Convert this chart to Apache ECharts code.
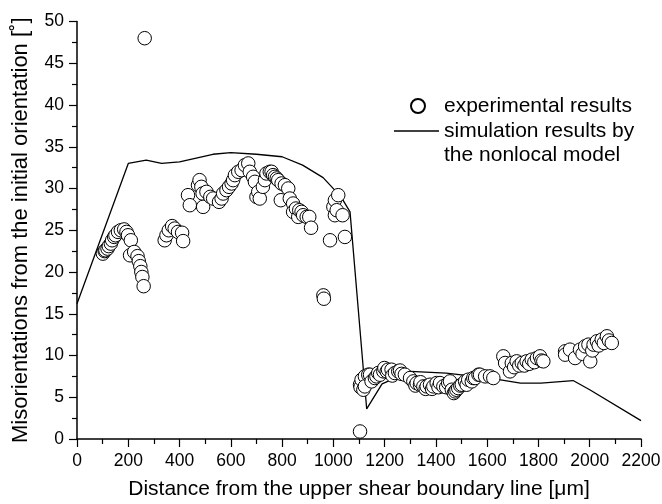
<!DOCTYPE html>
<html>
<head>
<meta charset="utf-8">
<script src="https://cdn.jsdelivr.net/npm/echarts@6/dist/echarts.min.js"></script>
<style>
html,body{margin:0;padding:0;background:#fff;}
#chart{width:662px;height:504px;}
</style>
</head>
<body>
<div id="chart"></div>
<script>
// ---- data ----
var xTicks = { min: 0, max: 2200, interval: 200 };
var yTicks = { min: 0, max: 50, interval: 5 };

var experimentalName = 'experimental results';
var simulationName = 'simulation results by\nthe nonlocal model';

var experimentalPoints = [
  [101,22.2],[108,22.5],[111,22.6],[119,22.8],[124,23.1],[132,23.4],[137,23.8],[145,24.2],[150,24.4],
  [160,24.8],[171,25.0],[184,25.1],[193,24.8],[199,24.4],[207,22.0],[210,23.8],[223,22.4],[236,21.9],
  [241,21.3],[247,20.7],[251,20.0],[255,19.4],[260,18.3],[264,48.0],
  [342,23.8],[349,24.4],[358,25.0],[371,25.5],[381,25.2],[394,24.8],[410,24.7],[414,23.7],
  [433,29.2],[440,28.0],[472,30.4],[478,31.0],[485,30.2],[490,29.4],[492,27.8],[505,29.6],[520,29.0],
  [531,28.8],[554,28.4],[564,28.8],[570,29.4],[583,29.8],[593,30.2],[603,30.6],[609,31.0],[616,31.6],
  [629,32.0],[642,32.2],[655,32.8],[668,33.0],[674,32.0],[687,31.4],[694,30.8],[700,29.0],[707,29.6],
  [713,28.8],[725,30.2],[733,31.0],[739,31.8],[752,32.0],[759,32.0],[765,31.6],[772,31.4],[779,31.2],
  [785,31.0],[795,28.6],[798,30.6],[811,30.4],[824,30.0],[830,28.8],[843,28.2],[843,27.2],[854,27.6],
  [863,26.6],[867,27.4],[876,27.2],[882,26.8],[896,26.6],[906,26.6],[913,25.3],
  [961,17.2],[963,16.8],
  [987,23.8],[1000,27.8],[1006,28.6],[1006,26.8],[1013,27.4],[1019,29.2],[1036,26.8],[1045,24.2],
  [1104,0.9],
  [1104,6.5],[1106,6.2],[1110,7.1],[1117,5.9],[1123,7.5],[1123,6.3],[1136,7.7],[1143,7.7],[1149,6.9],
  [1162,7.3],[1168,7.5],[1175,7.9],[1182,7.7],[1195,8.1],[1199,8.5],[1208,8.1],[1213,8.3],[1227,8.3],
  [1230,7.6],[1240,7.9],[1253,8.1],[1260,8.2],[1266,7.8],[1279,7.7],[1299,7.3],[1312,6.9],[1320,6.4],
  [1325,6.7],[1338,6.5],[1340,6.8],[1351,6.3],[1360,6.0],[1364,6.3],[1377,6.5],[1385,6.0],[1390,6.3],
  [1403,6.7],[1410,6.2],[1416,6.7],[1429,6.3],[1440,6.2],[1448,6.7],[1455,6.9],[1462,5.9],[1470,5.5],
  [1475,5.7],[1480,5.9],[1487,6.1],[1495,6.4],[1501,6.5],[1514,6.9],[1520,6.5],[1526,7.1],[1540,6.9],
  [1546,7.3],[1553,7.3],[1566,7.7],[1572,7.7],[1592,7.5],[1611,7.5],[1624,7.3],
  [1663,9.9],[1670,9.1],[1689,8.1],[1696,9.1],[1705,8.6],[1715,9.3],[1725,8.8],[1735,9.1],[1745,8.8],
  [1754,9.3],[1764,9.0],[1774,9.5],[1784,9.2],[1794,9.7],[1806,9.9],[1812,9.4],[1819,9.3],
  [1904,10.5],[1904,10.1],[1923,10.7],[1943,9.7],[1962,10.7],[1972,10.2],[1982,11.1],[1995,11.3],
  [2002,9.3],[2010,10.6],[2015,11.3],[2028,11.7],[2035,11.2],[2047,11.9],[2055,11.5],[2067,12.3],
  [2075,11.8],[2086,11.5]
];

var simulationPoints = [
  [0,16.2],[200,33.0],[270,33.4],[330,33.0],[400,33.2],[530,34.1],[600,34.3],[700,34.1],[800,33.8],
  [880,32.8],[960,31.3],[1030,29.0],[1065,27.2],[1130,3.6],[1190,6.6],[1300,8.1],[1440,7.9],
  [1610,7.3],[1730,6.7],[1810,6.7],[1935,7.0],[2000,5.9],[2200,2.2]
];

// ---- chart ----
var FONT = "'Liberation Sans', Arial, Helvetica, sans-serif";
var chart = echarts.init(document.getElementById('chart'), null, { renderer: 'canvas' });

var axisCommon = {
  axisLine: { show: true, onZero: false, lineStyle: { color: '#000', width: 1.5 } },
  axisTick: { show: true, inside: false, length: 8, lineStyle: { color: '#000', width: 1.2 } },
  minorTick: { show: true, splitNumber: 2, length: 5, lineStyle: { color: '#000', width: 1.2 } },
  splitLine: { show: false },
  minorSplitLine: { show: false }
};

chart.setOption({
  animation: false,
  backgroundColor: '#fff',
  textStyle: { fontFamily: FONT },
  grid: { left: 77, right: 21, top: 21.5, bottom: 65, containLabel: false, outerBoundsMode: 'none' },
  xAxis: Object.assign({}, axisCommon, {
    type: 'value',
    min: xTicks.min, max: xTicks.max, interval: xTicks.interval,
    name: 'Distance from the upper shear boundary line [\u03bcm]',
    nameLocation: 'middle', nameGap: 40,
    nameTextStyle: { color: '#000', fontFamily: FONT, fontSize: 21 },
    axisLabel: { color: '#000', fontFamily: FONT, fontSize: 17.5, margin: 13,
      formatter: function (v) { return String(v); } }
  }),
  yAxis: Object.assign({}, axisCommon, {
    type: 'value',
    min: yTicks.min, max: yTicks.max, interval: yTicks.interval,
    name: 'Misorientations from the initial orientation [\u02da]',
    nameLocation: 'middle', nameGap: 45, nameRotate: 90,
    nameTextStyle: { color: '#000', fontFamily: FONT, fontSize: 22 },
    axisLabel: { color: '#000', fontFamily: FONT, fontSize: 17.5, margin: 13,
      formatter: function (v) { return String(v); } }
  }),
  legend: [
    {
      data: [experimentalName],
      orient: 'vertical', left: 410, top: 94, padding: 0,
      icon: 'circle',
      itemWidth: 14, itemHeight: 14, itemGap: 0, selectedMode: false,
      formatter: function (n) { return '{p|' + n + '}'; },
      textStyle: { color: '#000', fontFamily: FONT, fontSize: 21, lineHeight: 24,
        rich: { p: { fontFamily: FONT, fontSize: 21, lineHeight: 24, padding: [0, 0, 0, 14] } } }
    },
    {
      data: [simulationName],
      orient: 'vertical', left: 394, top: 95, padding: 0,
      icon: 'rect', symbolKeepAspect: false,
      itemWidth: 45, itemHeight: 1.5, itemGap: 0, selectedMode: false,
      itemStyle: { color: '#000', borderWidth: 0 },
      formatter: function (n) { return '\u00a0\n' + n; },
      textStyle: { color: '#000', fontFamily: FONT, fontSize: 21, lineHeight: 24 }
    }
  ],
  series: [
    {
      name: simulationName,
      type: 'line',
      data: simulationPoints,
      showSymbol: false,
      symbol: 'none',
      lineStyle: { color: '#000', width: 1.3 },
      itemStyle: { color: '#000' },
      z: 2
    },
    {
      name: experimentalName,
      type: 'scatter',
      data: experimentalPoints,
      symbol: 'circle',
      symbolSize: 13.5,
      itemStyle: { color: '#fff', borderColor: '#000', borderWidth: 1, opacity: 1 },
      z: 3
    }
  ]
});
</script>
</body>
</html>
